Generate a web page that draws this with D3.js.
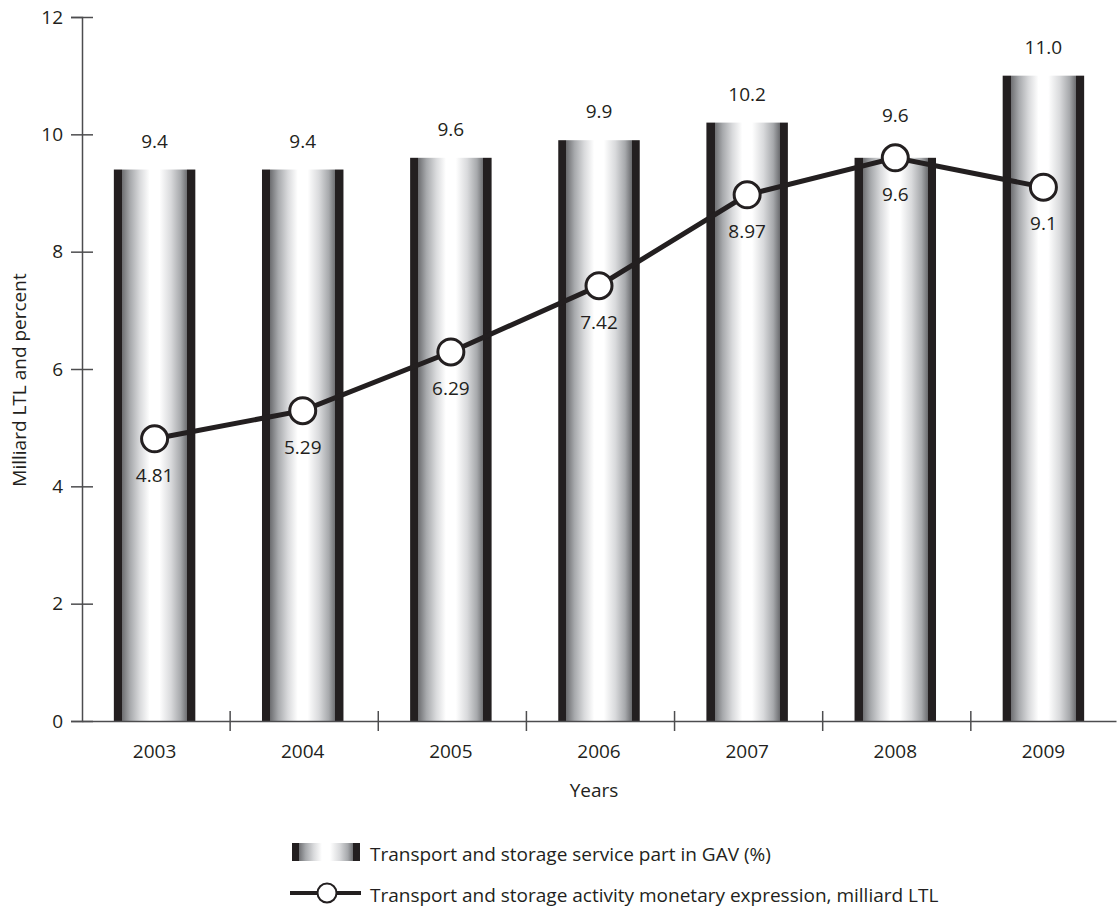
<!DOCTYPE html>
<html>
<head>
<meta charset="utf-8">
<script src="https://cdn.jsdelivr.net/npm/d3@7.9.0/dist/d3.min.js"></script>
<style>
  body { margin: 0; background: #fff; }
  svg text { font-family: "Open Sans", sans-serif; fill: #231f20; }
</style>
</head>
<body>
<svg id="chart" width="1117" height="911"></svg>
<script>
// chart data
const years = ['2003', '2004', '2005', '2006', '2007', '2008', '2009'];
const gavShare = [9.4, 9.4, 9.6, 9.9, 10.2, 9.6, 11.0];
const gavLabels = ['9.4', '9.4', '9.6', '9.9', '10.2', '9.6', '11.0'];
const monetary = [4.81, 5.29, 6.29, 7.42, 8.97, 9.6, 9.1];
const monetaryLabels = ['4.81', '5.29', '6.29', '7.42', '8.97', '9.6', '9.1'];
const yTicks = [0, 2, 4, 6, 8, 10, 12];

const svg = d3.select('#chart');
const ink = '#231f20';
const axisColor = '#4d4d4f';
const fontSize = 19;

// scales
const x = d3.scaleBand()
    .domain(years)
    .range([82, 1116])
    .paddingInner(0.45)
    .paddingOuter(0.215);

const y = d3.scaleLinear()
    .domain([0, 12])
    .range([721, 17]);

// bar gradient: black edges, grey steps to white in the middle
const defs = svg.append('defs');
const grad = defs.append('linearGradient')
    .attr('id', 'barGrad')
    .attr('x1', '0%').attr('x2', '100%')
    .attr('y1', '0%').attr('y2', '0%');
[
    [0, ink], [0.1, ink], [0.1, '#6d6e71'], [0.2, '#a7a9ac'],
    [0.32, '#d9dadc'], [0.44, '#ffffff'], [0.56, '#ffffff'],
    [0.7, '#d9dadc'], [0.82, '#a7a9ac'], [0.9, '#6d6e71'],
    [0.9, ink], [1, ink]
].forEach(([o, c]) => {
    grad.append('stop').attr('offset', o).attr('stop-color', c);
});

// bars
svg.append('g')
    .selectAll('rect')
    .data(years)
    .join('rect')
    .attr('x', d => x(d))
    .attr('width', x.bandwidth())
    .attr('y', (d, i) => y(gavShare[i]))
    .attr('height', (d, i) => y(0) - y(gavShare[i]))
    .attr('fill', 'url(#barGrad)');

// bar value labels (pushed up a bit when the line marker sits on the bar top)
svg.append('g')
    .selectAll('text')
    .data(years)
    .join('text')
    .attr('x', d => x(d) + x.bandwidth() / 2)
    .attr('y', (d, i) => {
        const clash = Math.abs(y(gavShare[i]) - y(monetary[i])) < 20;
        return y(gavShare[i]) - (clash ? 36 : 22);
    })
    .attr('text-anchor', 'middle')
    .attr('font-size', fontSize)
    .text((d, i) => gavLabels[i]);

// y axis
const yAxis = svg.append('g')
    .attr('transform', `translate(${x.range()[0]},0)`)
    .call(d3.axisLeft(y).tickValues(yTicks).tickSize(11));
yAxis.select('.domain').attr('stroke', axisColor).attr('stroke-width', 1.5);
yAxis.selectAll('.tick line')
    .attr('x1', -11).attr('x2', 11)
    .attr('stroke', axisColor).attr('stroke-width', 1.5);
yAxis.selectAll('.tick text')
    .attr('x', -19)
    .attr('font-size', fontSize)
    .attr('font-family', '"Open Sans", sans-serif')
    .attr('fill', ink);

// x axis: labels at band centres, ticks at band edges
const xAxis = svg.append('g')
    .attr('transform', `translate(0,${y(0)})`)
    .call(d3.axisBottom(x).tickSize(0).tickPadding(0));
xAxis.select('.domain').attr('stroke', axisColor).attr('stroke-width', 1.5);
xAxis.selectAll('.tick text')
    .attr('y', 37)
    .attr('dy', null)
    .attr('font-size', fontSize)
    .attr('font-family', '"Open Sans", sans-serif')
    .attr('fill', ink);
xAxis.selectAll('line.edge')
    .data(years)
    .join('line')
    .attr('class', 'edge')
    .attr('x1', (d, i) => x.range()[0] + x.step() * (i + 1))
    .attr('x2', (d, i) => x.range()[0] + x.step() * (i + 1))
    .attr('y1', -10).attr('y2', 10)
    .attr('stroke', axisColor).attr('stroke-width', 1.5);

// axis titles
svg.append('text')
    .attr('x', 594)
    .attr('y', 797)
    .attr('text-anchor', 'middle')
    .attr('font-size', fontSize)
    .text('Years');

svg.append('text')
    .attr('transform', 'translate(26,380) rotate(-90)')
    .attr('text-anchor', 'middle')
    .attr('font-size', fontSize)
    .text('Milliard LTL and percent');

// line series
const cx = d => x(d) + x.bandwidth() / 2;
const line = d3.line()
    .x(d => cx(d))
    .y((d, i) => y(monetary[i]));

svg.append('path')
    .datum(years)
    .attr('d', line)
    .attr('fill', 'none')
    .attr('stroke', ink)
    .attr('stroke-width', 5);

svg.append('g')
    .selectAll('circle')
    .data(years)
    .join('circle')
    .attr('cx', d => cx(d))
    .attr('cy', (d, i) => y(monetary[i]))
    .attr('r', 13)
    .attr('fill', '#fff')
    .attr('stroke', ink)
    .attr('stroke-width', 3);

svg.append('g')
    .selectAll('text')
    .data(years)
    .join('text')
    .attr('x', d => cx(d))
    .attr('y', (d, i) => y(monetary[i]) + 43)
    .attr('text-anchor', 'middle')
    .attr('font-size', fontSize)
    .text((d, i) => monetaryLabels[i]);

// legend
const legend = svg.append('g');
legend.append('rect')
    .attr('x', 292).attr('y', 843)
    .attr('width', 68).attr('height', 18)
    .attr('fill', 'url(#barGrad)');
legend.append('text')
    .attr('x', 370).attr('y', 861)
    .attr('font-size', fontSize)
    .text('Transport and storage service part in GAV (%)');

legend.append('line')
    .attr('x1', 290).attr('x2', 361)
    .attr('y1', 893).attr('y2', 893)
    .attr('stroke', ink).attr('stroke-width', 4);
legend.append('circle')
    .attr('cx', 327).attr('cy', 893).attr('r', 9.5)
    .attr('fill', '#fff')
    .attr('stroke', ink).attr('stroke-width', 2);
legend.append('text')
    .attr('x', 370).attr('y', 902)
    .attr('font-size', fontSize)
    .text('Transport and storage activity monetary expression, milliard LTL');
</script>
</body>
</html>
